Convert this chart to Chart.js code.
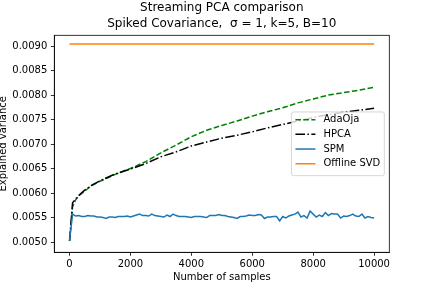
<!DOCTYPE html>
<html>
<head>
<meta charset="utf-8">
<script src="https://cdn.jsdelivr.net/npm/chart.js@4.4.0/dist/chart.umd.min.js"></script>
<style>
  html, body { margin: 0; padding: 0; background: #fff; }
</style>
</head>
<body>
<canvas id="chart" width="432" height="288"></canvas>
<script>
// x positions (number of samples) for the noisy SPM run
var spmSamples = [0,100,200,300,400,500,600,700,800,900,1000,1100,1200,1300,1400,1500,1600,1700,1800,1900,
  2000,2100,2200,2300,2400,2500,2600,2700,2800,2900,3000,3100,3200,3300,3400,3500,3600,3700,3800,3900,
  4000,4100,4200,4300,4400,4500,4600,4700,4800,4900,5000,5100,5200,5300,5400,5500,5600,5700,5800,5900,
  6000,6100,6200,6300,6400,6500,6600,6700,6800,6900,7000,7100,7200,7300,7400,7500,7600,7700,7800,7900,
  8000,8100,8200,8300,8400,8500,8600,8700,8800,8900,9000,9100,9200,9300,9400,9500,9600,9700,9800,9900,10000];
var spm = [0.00502,0.00557,0.00553,0.00554,0.00552,0.00552,0.00554,0.00553,0.00553,0.00551,
  0.00551,0.00550,0.00548,0.00551,0.00551,0.00550,0.00552,0.00552,0.00552,0.00553,
  0.00551,0.00553,0.00555,0.00557,0.00554,0.00554,0.00553,0.00557,0.00554,0.00553,
  0.00552,0.00551,0.00555,0.00552,0.00557,0.00554,0.00552,0.00552,0.00552,0.00551,
  0.00550,0.00552,0.00552,0.00552,0.00551,0.00550,0.00554,0.00554,0.00554,0.00556,
  0.00554,0.00554,0.00552,0.00551,0.00550,0.00548,0.00552,0.00552,0.00553,0.00555,
  0.00554,0.00554,0.00556,0.00555,0.00548,0.00551,0.00551,0.00552,0.00552,0.00543,
  0.00552,0.00549,0.00553,0.00555,0.00557,0.00561,0.00551,0.00554,0.00549,0.00563,
  0.00557,0.00551,0.00555,0.00552,0.00560,0.00554,0.00558,0.00557,0.00557,0.00549,
  0.00553,0.00552,0.00554,0.00557,0.00553,0.00552,0.00557,0.00549,0.00552,0.00550,0.00549];

// smoother curves, read at fewer positions
var curveSamples = [0,100,200,300,500,700,1000,1500,2000,2500,3000,3500,4000,4500,5000,
  5500,6000,6500,7000,7500,8000,8500,9000,9500,10000];
var adaOja = [0.00502,0.00572,0.00586,0.00594,0.00604,0.00614,0.00624,0.00638,0.00650,0.00664,
  0.00682,0.00698,0.00715,0.00728,0.00738,0.00747,0.00757,0.00766,0.00774,0.00784,
  0.00792,0.00800,0.00805,0.00810,0.00816];
var hpca = [0.00502,0.00580,0.00588,0.00595,0.00606,0.00615,0.00625,0.00639,0.00649,0.00660,
  0.00674,0.00684,0.00696,0.00704,0.00712,0.00718,0.00725,0.00733,0.00740,0.00747,
  0.00754,0.00760,0.00765,0.00769,0.00773];

var svdSamples = [0, 10000];
var offlineSvd = [0.00904, 0.00904];

var xTicks = [0,2000,4000,6000,8000,10000];
var yTicks = [0.0050,0.0055,0.0060,0.0065,0.0070,0.0075,0.0080,0.0085,0.0090];

function pts(xs, ys) {
  return xs.map(function (x, i) { return {x: x, y: ys[i]}; });
}

Chart.defaults.font.family = "'DejaVu Sans', sans-serif";
Chart.defaults.color = '#000';

// box around the plot
var framePlugin = {
  id: 'frame',
  afterDatasetsDraw: function (chart) {
    var a = chart.chartArea, ctx = chart.ctx;
    ctx.save();
    ctx.strokeStyle = '#000';
    ctx.lineWidth = 0.8;
    ctx.strokeRect(a.left, a.top, a.right - a.left, a.bottom - a.top);
    ctx.restore();
  }
};

// matplotlib-like legend, centre right inside the axes
var legendPlugin = {
  id: 'mplLegend',
  afterDraw: function (chart) {
    var a = chart.chartArea, ctx = chart.ctx;
    var items = chart.data.datasets;
    ctx.save();
    ctx.font = "10px 'DejaVu Sans'";
    var tw = 0;
    items.forEach(function (d) { tw = Math.max(tw, ctx.measureText(d.label).width); });
    var w = 4 + 20 + 8 + tw + 4;
    var rowH = 14.7;
    var h = 63.7;
    var right = a.right - 5;
    var left = right - w;
    var top = (a.top + a.bottom) / 2 - h / 2;
    ctx.beginPath();
    ctx.roundRect(left, top, w, h, 2);
    ctx.fillStyle = 'rgba(255,255,255,0.8)';
    ctx.fill();
    ctx.strokeStyle = 'rgba(204,204,204,0.8)';
    ctx.lineWidth = 1;
    ctx.stroke();
    items.forEach(function (d, i) {
      var y = top + 7.7 + i * rowH;
      ctx.beginPath();
      ctx.setLineDash(d.borderDash || []);
      ctx.strokeStyle = d.borderColor;
      ctx.lineWidth = d.borderWidth;
      ctx.moveTo(left + 4, y);
      ctx.lineTo(left + 24, y);
      ctx.stroke();
      ctx.setLineDash([]);
      ctx.fillStyle = '#000';
      ctx.textBaseline = 'middle';
      ctx.textAlign = 'left';
      ctx.fillText(d.label, left + 32, y);
    });
    ctx.restore();
  }
};

new Chart(document.getElementById('chart').getContext('2d'), {
  type: 'line',
  data: {
    datasets: [{
      label: 'AdaOja',
      data: pts(curveSamples, adaOja),
      borderColor: '#008000',
      borderDash: [5.55, 2.4],
      borderWidth: 1.5,
      order: 4
    }, {
      label: 'HPCA',
      data: pts(curveSamples, hpca),
      borderColor: '#000000',
      borderDash: [9.6, 2.4, 1.5, 2.4],
      borderWidth: 1.5,
      order: 3
    }, {
      label: 'SPM',
      data: pts(spmSamples, spm),
      borderColor: '#1f77b4',
      borderWidth: 1.5,
      order: 2
    }, {
      label: 'Offline SVD',
      data: pts(svdSamples, offlineSvd),
      borderColor: '#ff7f0e',
      borderWidth: 1.5,
      order: 1
    }]
  },
  options: {
    responsive: false,
    animation: false,
    devicePixelRatio: 1,
    elements: { point: { radius: 0 }, line: { tension: 0, fill: false } },
    layout: { padding: { left: 0, right: 42.7, top: 0, bottom: 0 } },
    plugins: {
      legend: { display: false },
      tooltip: { enabled: false },
      title: {
        display: true,
        fullSize: false,
        text: ['Streaming PCA comparison', 'Spiked Covariance,  \u03c3 = 1, k=5, B=10'],
        font: { size: 12, weight: 'normal', lineHeight: 1.333 },
        color: '#000',
        padding: { top: 0, bottom: 3.3 }
      }
    },
    scales: {
      x: {
        type: 'linear',
        min: -500,
        max: 10500,
        afterBuildTicks: function (s) { s.ticks = xTicks.map(function (v) { return {value: v}; }); },
        afterFit: function (s) { s.height = 35.7; },
        ticks: {
          font: { size: 10 }, padding: 3, maxRotation: 0, color: '#000',
          callback: function (v) { return String(v); }
        },
        grid: { drawOnChartArea: false, drawTicks: true, tickLength: 3.5, color: '#000', lineWidth: 0.8 },
        border: { display: true, color: '#000', width: 0.8 },
        title: { display: true, text: 'Number of samples', font: { size: 10 }, padding: { top: 2, bottom: 5 } }
      },
      y: {
        type: 'linear',
        min: 0.00479,
        max: 0.00922,
        afterBuildTicks: function (s) { s.ticks = yTicks.map(function (v) { return {value: v}; }); },
        afterFit: function (s) { s.width = 54.3; },
        ticks: {
          font: { size: 10 }, padding: 3.5, color: '#000',
          callback: function (v) { return v.toFixed(4); }
        },
        grid: { drawOnChartArea: false, drawTicks: true, tickLength: 3.5, color: '#000', lineWidth: 0.8 },
        border: { display: true, color: '#000', width: 0.8 },
        title: { display: true, text: 'Explained variance', font: { size: 10 }, padding: { top: -3, bottom: 0 } }
      }
    }
  },
  plugins: [framePlugin, legendPlugin]
});
</script>
</body>
</html>
